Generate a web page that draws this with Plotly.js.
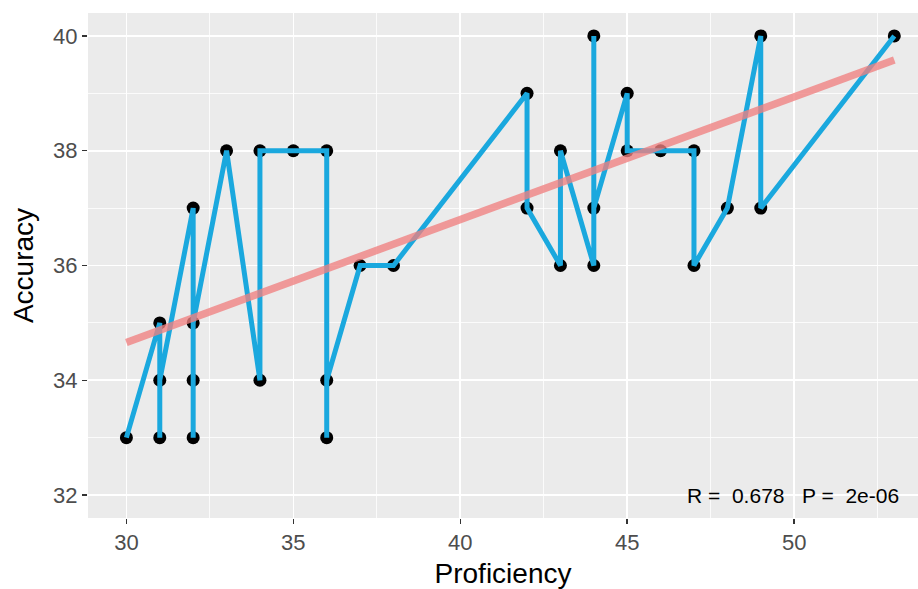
<!DOCTYPE html>
<html>
<head>
<meta charset="utf-8">
<script src="https://cdn.plot.ly/plotly-3.0.1.min.js"></script>
<style>
html,body{margin:0;padding:0;background:#fff;overflow:hidden;}
#chart{width:918px;height:589px;}
</style>
</head>
<body>
<div id="chart"></div>
<script>
// Data in path order (as drawn)
const proficiency = [30,31,31,31,32,32,32,32,33,34,34,35,36,36,36,37,38,42,42,43,43,44,44,44,45,45,46,47,47,48,49,49,53];
const accuracy    = [33,35,33,34,37,33,34,35,38,34,38,38,38,33,34,36,36,39,37,36,38,36,40,37,39,38,38,38,36,37,40,37,40];
// Fitted regression line endpoints
const fitX = [30, 53];
const fitY = [34.66, 39.58];
const corLabel = "R =\u00A0 0.678 \u00A0 P =\u00A0 2e-06";
const xTicks = [30,35,40,45,50];
const yTicks = [32,34,36,38,40];

const FONT = "Liberation Sans, Arial, sans-serif";

const traces = [
  {x: proficiency, y: accuracy, type: 'scatter', mode: 'markers',
   marker: {color: '#000000', size: 13}, hoverinfo: 'skip', showlegend: false},
  {x: proficiency, y: accuracy, type: 'scatter', mode: 'lines',
   line: {color: '#1AA8DE', width: 5}, hoverinfo: 'skip', showlegend: false},
  {x: fitX, y: fitY, type: 'scatter', mode: 'lines',
   line: {color: 'rgba(240,128,128,0.78)', width: 7.5}, hoverinfo: 'skip', showlegend: false}
];

const layout = {
  width: 918, height: 589,
  margin: {l: 88, r: 0, t: 13, b: 71},
  paper_bgcolor: '#ffffff',
  plot_bgcolor: '#EBEBEB',
  showlegend: false,
  font: {family: FONT},
  xaxis: {
    range: [28.85, 53.71],
    tickmode: 'array', tickvals: xTicks, ticktext: xTicks.map(String),
    ticks: 'outside', ticklen: 5, tickwidth: 1.5, tickcolor: '#333333',
    tickfont: {size: 22, color: '#4D4D4D', family: FONT},
    showgrid: true, gridcolor: '#ffffff', gridwidth: 1.6,
    minor: {tickmode: 'array', tickvals: [32.5,37.5,42.5,47.5,52.5], showgrid: true, gridcolor: '#ffffff', gridwidth: 0.8, ticks: ''},
    zeroline: false, showline: false,
    title: {text: 'Proficiency', font: {size: 28, color: '#000000', family: FONT}, standoff: 11},
    automargin: false
  },
  yaxis: {
    range: [31.6, 40.4],
    tickmode: 'array', tickvals: yTicks, ticktext: yTicks.map(String),
    ticks: 'outside', ticklen: 5, tickwidth: 1.5, tickcolor: '#333333',
    tickfont: {size: 22, color: '#4D4D4D', family: FONT},
    showgrid: true, gridcolor: '#ffffff', gridwidth: 1.6,
    minor: {tickmode: 'array', tickvals: [33,35,37,39], showgrid: true, gridcolor: '#ffffff', gridwidth: 0.8, ticks: ''},
    zeroline: false, showline: false,
    title: {text: 'Accuracy', font: {size: 28, color: '#000000', family: FONT}, standoff: 11},
    automargin: false
  },
  annotations: [{
    x: 46.74, y: 32, xref: 'x', yref: 'y', xanchor: 'left', yanchor: 'middle',
    text: corLabel, showarrow: false,
    font: {size: 21, color: '#000000', family: FONT}
  }]
};

Plotly.newPlot('chart', traces, layout, {displayModeBar: false, staticPlot: true});
</script>
</body>
</html>
